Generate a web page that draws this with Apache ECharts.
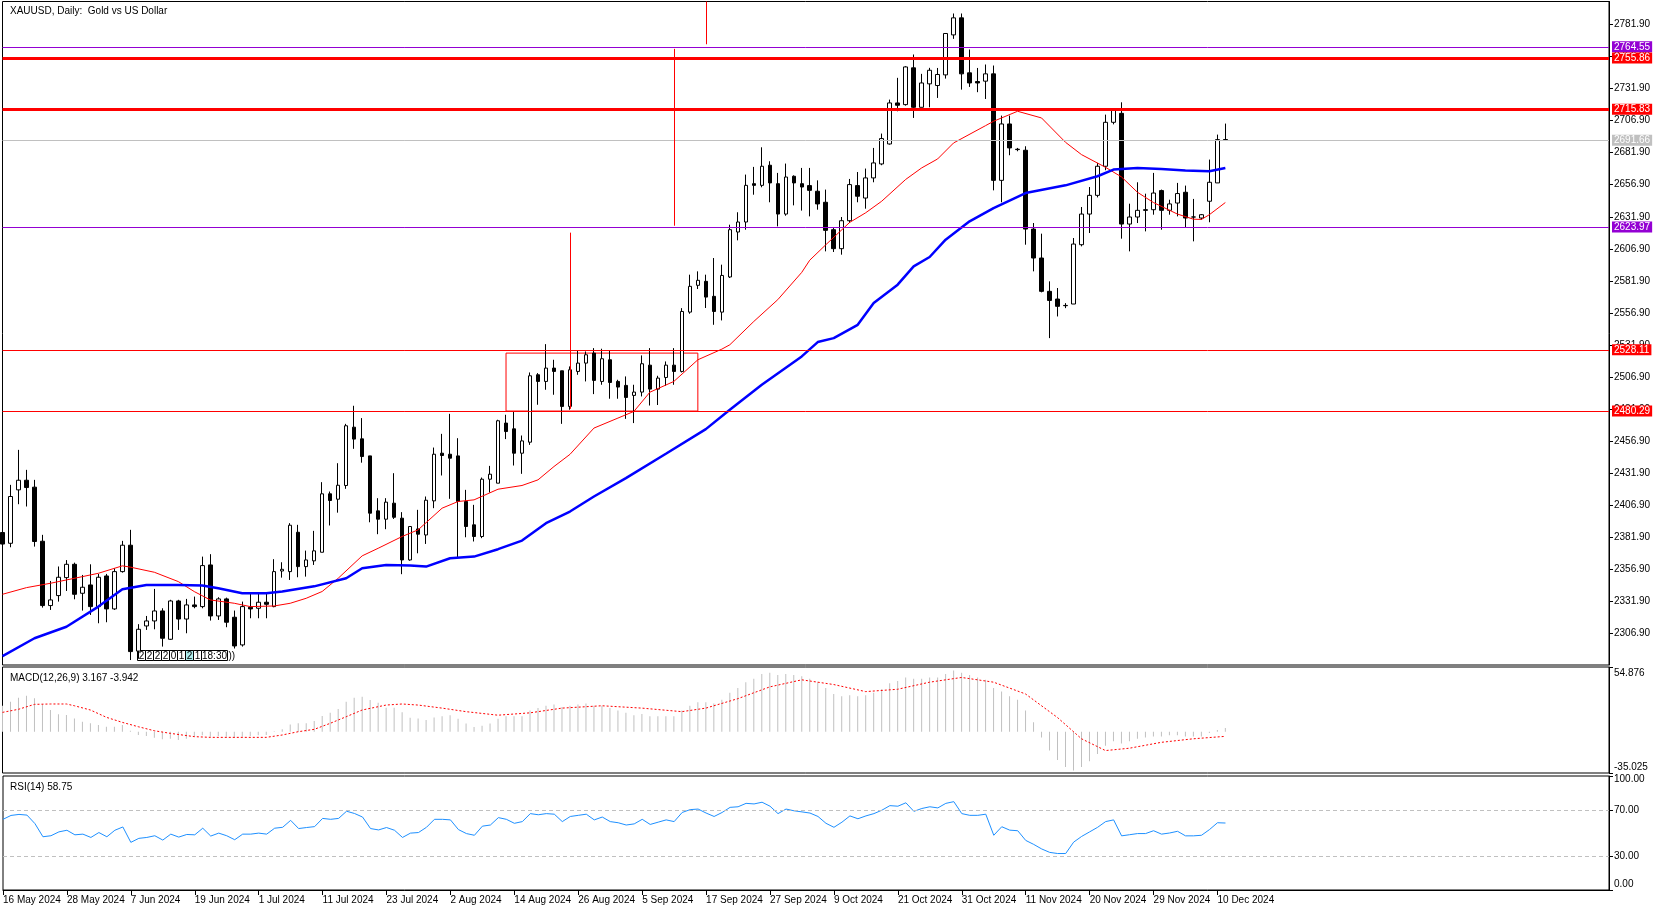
<!DOCTYPE html>
<html><head><meta charset="utf-8">
<script src="https://cdn.jsdelivr.net/npm/echarts@6/dist/echarts.min.js"></script>
<style>html,body{margin:0;padding:0;background:#fff}#c{width:1662px;height:911px}</style>
</head><body><div id="c"></div><script>
const dateLabels = ['16 May 2024','28 May 2024','7 Jun 2024','19 Jun 2024','1 Jul 2024','11 Jul 2024','23 Jul 2024','2 Aug 2024','14 Aug 2024','26 Aug 2024','5 Sep 2024','17 Sep 2024','27 Sep 2024','9 Oct 2024','21 Oct 2024','31 Oct 2024','11 Nov 2024','20 Nov 2024','29 Nov 2024','10 Dec 2024'];
const opens = [2385.5,2377.1,2418.8,2426.3,2420.9,2378.7,2328.5,2336.3,2350.3,2360.7,2338.1,2344.6,2327.7,2351.6,2325.9,2355,2375.6,2293,2312.6,2316.5,2324.3,2302.2,2332.1,2318,2329,2327.7,2360.2,2320.4,2333.7,2319.4,2297.8,2327.2,2326.4,2331.1,2327.7,2355.5,2355,2385.7,2358.9,2363.4,2370.1,2415.7,2411.5,2422.2,2467.7,2458.6,2445.3,2402.4,2395.9,2408.4,2396.7,2364.1,2388.3,2383.6,2410.2,2447.4,2446.6,2445.3,2409.7,2391.5,2382.4,2427.1,2424,2470.9,2466.4,2447.4,2456,2508.6,2503.4,2513.8,2511.7,2483.9,2511.2,2517.7,2525.5,2503.4,2520.3,2503.4,2500.3,2492.5,2495.1,2516.1,2497.4,2506.5,2516.1,2511.2,2557.5,2578.4,2581.5,2569.8,2557.5,2584.9,2620,2627.8,2657.7,2656.4,2672.1,2657.7,2634,2663.5,2657.7,2656.2,2651.8,2643.2,2621.8,2607,2628.8,2656.2,2646.5,2662.2,2673.1,2688.7,2720.7,2719.4,2748.1,2717.3,2735.6,2734.3,2742.6,2773.8,2787.1,2744.2,2737.4,2737.7,2743.4,2660.3,2704.3,2684.6,2683.8,2622.3,2599.7,2573.7,2567.7,2562.7,2563.8,2610.1,2634,2648.6,2671.3,2705.6,2712.6,2626.2,2631.7,2637.4,2637.4,2652.3,2636.9,2642.6,2651,2631.7,2630.9,2644,2658.3,2692.1];
const highs = [2390,2422.7,2450,2434.4,2426.6,2383.7,2347.7,2359,2364,2362,2352.4,2360.7,2353.2,2353.2,2357.6,2379,2387.6,2314,2320.4,2341.5,2326.4,2333,2333,2333.7,2335.5,2366.7,2368.6,2335,2334.7,2324.6,2331.6,2338.6,2337.6,2338,2364.7,2362.3,2392.8,2391.5,2371.4,2386.8,2424.8,2417.5,2439.6,2470.3,2484.4,2474.8,2445.3,2412.3,2412.3,2431.8,2401.4,2390.5,2403.2,2413.6,2451.8,2462.5,2478.1,2459.1,2418.8,2407.1,2428.4,2437.5,2473.5,2477.4,2480,2461.2,2510.4,2509.9,2532.5,2520.3,2511.7,2515.1,2527.6,2526.8,2529.4,2528.9,2527.3,2504.7,2507.3,2500.8,2523.7,2529.4,2507.8,2519,2529.4,2560.6,2586.7,2589.3,2586.7,2599.7,2594.5,2625.7,2635.4,2664.8,2670.8,2686.1,2675.2,2666.1,2673.4,2664.2,2670,2670,2660.3,2653.1,2623.9,2631.7,2661.4,2666.8,2669.5,2685.6,2696.8,2723.3,2740.3,2749.4,2758.5,2743.4,2748.1,2748,2774.9,2790.5,2790.5,2762.4,2748,2750.7,2749.9,2710.8,2710.8,2685.6,2686.9,2627,2618.7,2581.5,2576.3,2564.5,2615.3,2639.5,2655.1,2673.9,2711.6,2716.5,2721.2,2642.1,2658.8,2649.9,2666.1,2653.1,2645.2,2658.3,2656.2,2645.8,2634,2676.5,2696,2704.6];
const lows = [2373,2374,2407.6,2405.8,2374.5,2326.9,2325.1,2331.6,2339.9,2333.4,2324.6,2321.2,2314.7,2315.5,2325.1,2354.2,2286,2287,2309.5,2310,2296.5,2301.7,2309.5,2306.9,2326.4,2326.4,2316.8,2317.3,2311.6,2295,2296.5,2318.6,2318.6,2318.6,2327.2,2350.3,2348.5,2350.6,2351.1,2360.2,2370.1,2391,2401,2419.6,2450.8,2440,2393.5,2384.2,2388.1,2396.1,2353,2363.5,2369.3,2376.6,2404.5,2430,2411.8,2365.4,2381.8,2378.5,2381.1,2416.7,2424,2458.4,2437.8,2431.3,2453.9,2485.2,2496.9,2493,2470.3,2481.3,2508.6,2503.4,2493.5,2500.8,2489.9,2489.9,2474.2,2470.9,2491.7,2484.6,2485,2500,2500.8,2510.4,2556.2,2575.5,2560.7,2547.6,2551,2584.1,2613.5,2621.8,2649.1,2654.9,2643.2,2624.4,2632.7,2640.8,2636.7,2632.2,2637.4,2604.9,2604.4,2602.3,2627,2643.2,2638.2,2658.8,2672.1,2688.2,2714.2,2718.6,2709,2717.3,2717.3,2724.6,2739.7,2770.7,2731.1,2733.2,2729.1,2723.8,2652.5,2643.2,2679.9,2683,2610.1,2589.3,2572.9,2537.2,2554.1,2560.6,2563.8,2608.8,2619.2,2647,2668.2,2704,2614.8,2604.9,2627,2620.5,2633.5,2621.8,2633.5,2632.2,2623.9,2612.7,2629.6,2627.6,2658.3,2692];
const closes = [2376.5,2413.6,2426.3,2420.6,2378.5,2328.5,2332.9,2350.6,2360.7,2337.3,2342.8,2327.7,2350.6,2325.9,2355,2375.6,2292.6,2310,2316.5,2324.3,2303,2332.1,2318,2329,2327.7,2359.7,2320.4,2333.7,2315.5,2297,2327.7,2325.9,2331.1,2329.5,2355,2356.8,2391.2,2358.9,2364.1,2371.2,2415.7,2410.5,2422.4,2468.8,2458.4,2444.8,2400.6,2395.9,2409.2,2397.4,2364.1,2390.2,2384.2,2410.7,2446.6,2445.6,2443.5,2409.7,2390.2,2382.4,2427.1,2431,2472.7,2464.3,2447.4,2457,2507.8,2503.4,2513.8,2511.2,2483.9,2512.5,2517.7,2524.2,2504.2,2521.1,2502.6,2499,2490.9,2495.1,2517.2,2497.4,2506,2516.1,2511.2,2558,2577.6,2582.3,2569.2,2558,2586.1,2621.8,2627.8,2656.4,2656.4,2671.3,2658.3,2634,2662.9,2658.3,2655.1,2652.5,2641.9,2621.3,2607,2628.8,2657,2647.9,2662.2,2673.9,2692.9,2720.7,2718.9,2748.8,2717.3,2736.3,2746.2,2742.9,2774.9,2787.1,2743.4,2736.3,2736.3,2743.4,2660.3,2704.3,2685.6,2684.3,2622.3,2599.7,2573.7,2566.6,2562,2562.5,2610.6,2634,2648.6,2671.3,2705.6,2715.5,2626.2,2631.7,2636.9,2636.9,2650.4,2636.9,2641.9,2650,2630.9,2631.7,2633.5,2658.8,2692.1,2691.66];
const maRed = [[0,2337.3],[3,2342.5],[6,2345.9],[10,2351.1],[12,2353.7],[15,2359.5],[16,2358.5],[19,2354.5],[22,2347.2],[24,2339.4],[26,2332.9],[29,2330.3],[31,2327.7],[34,2328.2],[36,2330.3],[38,2334.2],[40,2339.5],[42,2349.8],[45,2367.3],[47,2373.2],[50,2382.4],[52,2387.6],[55,2404.5],[57,2409.7],[59,2411],[62,2419.3],[65,2422.2],[67,2426.6],[69,2437],[71,2446.5],[74,2467],[77,2474.8],[79,2480],[81,2495],[84,2503.4],[87,2520.3],[90,2528.6],[91,2532],[94,2550.2],[97,2567.2],[100,2588.5],[101,2598],[103,2610],[106,2627.5],[108,2635],[110,2644],[113,2661],[115,2670],[117,2677],[119,2689.5],[123,2703],[124,2706.4],[127,2714.2],[130,2709],[133,2690],[135,2680.4],[138,2670.5],[140,2663],[142,2651],[144,2643],[147,2634],[149,2630],[150,2629.8],[151,2633.5],[153,2643]];
const maBlue = [[0,2289],[4,2303],[8,2312],[12,2327.7],[15,2341.2],[18,2344.6],[22,2344.6],[25,2344.1],[27,2342],[30,2338.1],[33,2338.1],[35,2339.4],[39,2343.5],[43,2349.8],[45,2357.6],[48,2360.2],[51,2359.7],[53,2358.9],[56,2365.4],[59,2366.7],[62,2372.5],[65,2379.2],[68,2392.8],[71,2401.9],[74,2413.6],[78,2428],[83,2447],[88,2466.2],[91,2481.3],[95,2500.8],[100,2522.9],[102,2534.1],[104,2537.2],[107,2547.6],[109,2564.6],[112,2578.9],[114,2593.2],[116,2600.5],[118,2614],[121,2628.3],[124,2638.7],[128,2650.4],[133,2656.4],[137,2663.5],[139,2668.7],[142,2670],[145,2669.2],[148,2668],[151,2667.4],[153,2670]];
const macdHist = [22,25.4,28.8,30.5,28.3,23.2,18.4,14.7,14.1,11.3,8.5,7.1,5.7,4.2,4.2,5.7,0.8,-2.8,-3.7,-5.1,-6.5,-5.9,-7.1,-5.9,-4.2,-3.1,-4.2,-3.7,-4.2,-5.4,-4.2,-3.7,-3.1,-2.8,0.3,2,6.2,7.1,7.1,9,13.3,16.1,19.2,25.4,28.8,29.7,26.9,24.6,20.4,20.4,16.4,11.9,11.3,10,12,13,14,11,7,4,5,7,11,13,13,13,18,20,22,23,21,22,23,24,22,22,20,18,16,14,15,13,13,13,13,18,22,25,25,24,27,33,37,42,45,49,50,48,49,48,47,45,42,37,32,30,31,30,31,33,36,41,43,46,45,45,46,46,49,52,50,48,46,44,37,34,30,27,18,8,-5,-16,-24,-30,-33,-30,-25,-19,-12,-8,-10,-8,-6,-5,-4,-4,-3,-3,-4,-4,-4,-1,1.5,3.167];
const macdSignal = [[0,16.4],[2,19],[4,23.2],[6,23.5],[8,23.5],[9,22],[11,18.4],[13,12.2],[15,7.9],[17,4.2],[19,0.8],[21,-1.4],[24,-4.2],[26,-4.8],[33,-4.8],[35,-2.8],[37,0],[39,2],[41,7.1],[43,12.7],[45,18.4],[48,22.6],[50,23.5],[52,22.6],[55,20],[58,17],[62,14],[66,16],[70,20],[75,22],[80,20],[85,17],[88,20],[92,28],[96,38],[100,44],[104,40],[108,34],[112,36],[116,42],[120,46],[124,42],[128,32],[132,12],[135,-6],[138,-16],[141,-14],[145,-9],[149,-6],[153,-3.942]];
const rsiValues = [62,65.4,66.3,65.7,58.2,46.7,47.6,51,52.4,48.4,49,46.1,50.4,46.7,52.4,55.3,41.8,45.3,46.1,47.6,43.8,49,46.4,48.7,48.4,54.2,47.3,49.9,47.6,44.1,49,49,49.9,49,54.2,55,61.1,53.9,54.8,55.6,62.8,62,62.8,69.1,67.1,64,53.9,52.7,54.8,52.4,46.1,49.9,50.4,55,62,62,61.5,53,49.5,48,56,57,63.5,62,58.5,60,67,66,67,66.5,60,64.5,65.5,66.5,61.5,64,60,59,57,58,62,57.5,59.5,61.5,60,68,70.5,71,67.5,64.5,68,72.5,73,76,75.5,77,73.5,67,71,69.5,68.5,67.5,64.5,58.5,55,59.5,65,62.5,65,67,70,74,73.5,76.5,69,71.5,73,72,76,77.5,67,65.5,65.5,66.5,48,55.5,52.5,52,43.5,40,36,33,32,32,42,47,51,55,60,61.5,47.5,48.5,49.5,49.5,52,49,50,51.5,47.5,47.5,48,53,59,58.75];
const priceTicks = [2306.90,2331.90,2356.90,2381.90,2406.90,2431.90,2456.90,2481.90,2506.90,2531.90,2556.90,2581.90,2606.90,2631.90,2656.90,2681.90,2706.90,2731.90,2756.90,2781.90];
const priceRange = [2282.13, 2799.86];
const macdRange = [-35.025, 54.876];
const rsiTicks = [0, 30, 70, 100];
const rsiLevels = [70, 30];
const purpleLevels = [2764.55, 2623.97];
const redThickLevels = [2755.86, 2715.83];
const redThinLevels = [2528.11, 2480.29];
const bidLevel = 2691.66;
const vSegments = [[71, 2482, 2619.5], [84, 2624.9, 2762.9], [88, 2766.5, 2799.86]];
const boxZone = [63, 2525.5, 87, 2480.3];
const boxChars = ['2','2','2','2','0','1','2','1','18:30'];

const FONT = 'Liberation Sans';
const N = 202;
const cats = Array.from({length: N}, (_, i) => String(i));
const candleData = opens.map((o, i) => [o, closes[i], lows[i], highs[i]]);
const isLabel = (i) => i % 8 === 0 && i / 8 < dateLabels.length;

function levelLine(v, color, width) {
  return {yAxis: v, lineStyle: {color: color, width: width, type: 'solid'},
    label: {show: true, position: 'end', formatter: v.toFixed(2), color: '#fff', backgroundColor: color,
      padding: [1, 2, 0, 2], fontSize: 10, fontFamily: FONT, distance: 3}};
}
const markLines = [];
purpleLevels.forEach(v => markLines.push(levelLine(v, '#9400D3', 1)));
redThickLevels.forEach(v => markLines.push(levelLine(v, '#FF0000', 3)));
redThinLevels.forEach(v => markLines.push(levelLine(v, '#FF0000', 1)));
markLines.push(levelLine(bidLevel, '#C0C0C0', 1));
vSegments.forEach(s => markLines.push([{coord: [s[0], s[1]], lineStyle: {color: '#FF0000', width: 1, type: 'solid'}, label: {show: false}}, {coord: [s[0], s[2]]}]));

function xAx(gi, show) {
  return {type: 'category', gridIndex: gi, data: cats, boundaryGap: false, show: show,
    axisLine: {show: show, lineStyle: {color: '#000', width: 1}},
    axisTick: {show: show, interval: (i) => isLabel(i), length: 5, lineStyle: {color: '#000'}},
    axisLabel: {show: show, interval: (i) => isLabel(i), formatter: (v, i) => dateLabels[i / 8] || '',
      align: 'left', margin: 5, fontSize: 10, fontFamily: FONT, color: '#000'},
    splitLine: {show: false}};
}
const axisStyle = {axisLine: {show: true, lineStyle: {color: '#000', width: 1}}, splitLine: {show: false}};

const children = [];
let gx = 137.5;
boxChars.forEach((ch, k) => {
  const w = ch.length > 1 ? 26 : 8;
  children.push({type: 'rect', shape: {x: gx, y: 650.5, width: w, height: 10},
    style: {fill: k === 6 ? '#AEEEEE' : '#fff', stroke: '#000', lineWidth: 1}});
  children.push({type: 'text', x: gx + w / 2, y: 656,
    style: {text: ch, fontSize: 10, fontFamily: FONT, fill: '#000', align: 'center', verticalAlign: 'middle'}});
  gx += w;
});
children.push({type: 'text', x: gx + 1, y: 656, style: {text: '))', fontSize: 10, fontFamily: FONT, fill: '#000', align: 'left', verticalAlign: 'middle'}});

const chart = echarts.init(document.getElementById('c'), null, {renderer: 'canvas'});
chart.setOption({
  animation: false,
  backgroundColor: '#fff',
  textStyle: {fontFamily: FONT},
  title: [
    {text: 'XAUUSD, Daily:  Gold vs US Dollar', left: 5, top: 1, textStyle: {fontSize: 10, fontWeight: 'normal', color: '#000', fontFamily: FONT}},
    {text: 'MACD(12,26,9) 3.167 -3.942', left: 5, top: 668, textStyle: {fontSize: 10, fontWeight: 'normal', color: '#000', fontFamily: FONT}},
    {text: 'RSI(14) 58.75', left: 5, top: 777, textStyle: {fontSize: 10, fontWeight: 'normal', color: '#000', fontFamily: FONT}}
  ],
  grid: [
    {left: 2.5, top: 1.5, width: 1606.5, height: 663.5, show: true, borderColor: '#000', borderWidth: 1, backgroundColor: '#fff'},
    {left: 2.5, top: 667, width: 1606.5, height: 106, show: true, borderColor: '#000', borderWidth: 1, backgroundColor: '#fff'},
    {left: 2.5, top: 776, width: 1606.5, height: 114, show: true, borderColor: '#000', borderWidth: 1, backgroundColor: '#fff'}
  ],
  xAxis: [xAx(0, false), xAx(1, false), xAx(2, true)],
  yAxis: [
    Object.assign({type: 'value', gridIndex: 0, position: 'right', min: priceRange[0], max: priceRange[1], scale: true,
      axisTick: {show: true, length: 4, customValues: priceTicks, lineStyle: {color: '#000'}},
      axisLabel: {customValues: priceTicks, formatter: v => v.toFixed(2), fontSize: 10, fontFamily: FONT, color: '#000', margin: 5}}, axisStyle),
    Object.assign({type: 'value', gridIndex: 1, position: 'right', min: macdRange[0], max: macdRange[1],
      axisTick: {show: true, length: 4, customValues: macdRange, lineStyle: {color: '#000'}},
      axisLabel: {customValues: macdRange, fontSize: 10, fontFamily: FONT, color: '#000', margin: 5,
        formatter: v => v > 0 ? '{t|' + v.toFixed(3) + '}' : '{b|' + v.toFixed(3) + '}',
        rich: {t: {padding: [12, 0, 0, 0], fontSize: 10, fontFamily: FONT}, b: {padding: [0, 0, 11, 0], fontSize: 10, fontFamily: FONT}}}}, axisStyle),
    Object.assign({type: 'value', gridIndex: 2, position: 'right', min: 0, max: 100,
      axisTick: {show: true, length: 4, customValues: rsiTicks, lineStyle: {color: '#000'}},
      axisLabel: {customValues: rsiTicks, fontSize: 10, fontFamily: FONT, color: '#000', margin: 5,
        formatter: v => v === 100 ? '{t|100.00}' : (v === 0 ? '{b|0.00}' : v.toFixed(2)),
        rich: {t: {padding: [7, 0, 0, 0], fontSize: 10, fontFamily: FONT}, b: {padding: [0, 0, 12, 0], fontSize: 10, fontFamily: FONT}}}}, axisStyle)
  ],
  series: [
    {type: 'candlestick', xAxisIndex: 0, yAxisIndex: 0, data: candleData, barWidth: 4, z: 2,
      itemStyle: {color: '#fff', color0: '#000', borderColor: '#000', borderColor0: '#000', borderWidth: 1},
      markLine: {silent: true, symbol: ['none', 'none'], animation: false, data: markLines},
      markArea: {silent: true, itemStyle: {color: 'rgba(0,0,0,0)', borderColor: '#FF0000', borderWidth: 1},
        data: [[{coord: [boxZone[0], boxZone[1]]}, {coord: [boxZone[2], boxZone[3]]}]]}},
    {type: 'line', xAxisIndex: 0, yAxisIndex: 0, data: maRed, symbol: 'none', z: 4, lineStyle: {color: '#FF0000', width: 1}},
    {type: 'line', xAxisIndex: 0, yAxisIndex: 0, data: maBlue, symbol: 'none', z: 4, lineStyle: {color: '#0000FF', width: 2.5}},
    {type: 'bar', xAxisIndex: 1, yAxisIndex: 1, data: macdHist, barWidth: 1, itemStyle: {color: '#C0C0C0'}},
    {type: 'line', xAxisIndex: 1, yAxisIndex: 1, data: macdSignal, symbol: 'none', z: 4, lineStyle: {color: '#FF0000', width: 1, type: [2, 2]}},
    {type: 'line', xAxisIndex: 2, yAxisIndex: 2, data: rsiValues, symbol: 'none', z: 4, lineStyle: {color: '#1E90FF', width: 1},
      markLine: {silent: true, symbol: ['none', 'none'], label: {show: false},
        lineStyle: {color: '#C0C0C0', type: [4, 3], width: 1}, data: rsiLevels.map(v => ({yAxis: v}))}}
  ],
  graphic: [{type: 'group', children: children, z: 100}]
});
</script></body></html>
